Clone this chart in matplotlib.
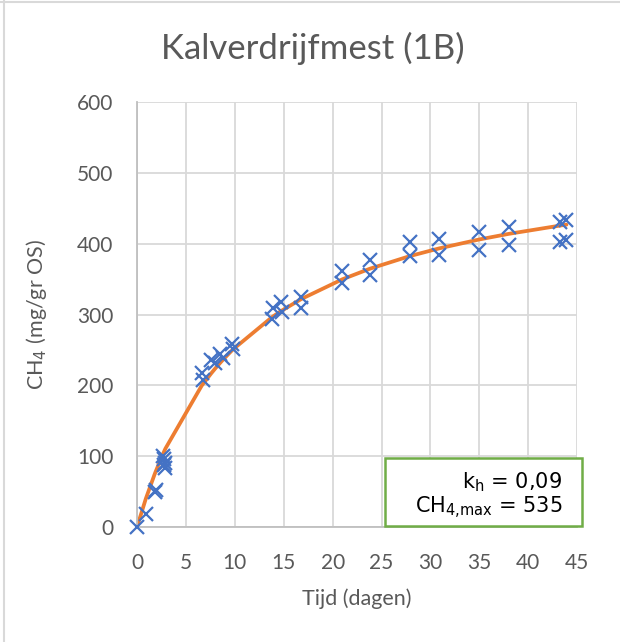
import matplotlib
matplotlib.use('Agg')
import matplotlib.pyplot as plt
from matplotlib.lines import Line2D
from matplotlib.patches import Rectangle
import numpy as np

# meetpunten: tijd (dagen) en cumulatieve methaanproductie (mg/gr OS)
tijd = [0, 0.9, 1.8, 1.9, 2.7, 2.8, 2.9, 2.8, 2.9,
        6.6, 6.7, 7.6, 8.0, 8.5, 8.8, 9.7, 9.8,
        13.8, 13.9, 14.7, 14.8, 16.8, 16.8,
        21.0, 21.0, 23.8, 23.8, 27.9, 27.9, 30.9, 30.9,
        35.0, 35.0, 38.0, 38.0, 43.2, 43.9, 43.2, 43.9]
ch4 = [0, 18, 50, 52, 101, 96, 91, 87, 83,
       217, 208, 236, 231, 245, 238, 259, 252,
       294, 309, 318, 304, 325, 309,
       362, 344, 377, 356, 403, 382, 407, 384,
       417, 391, 424, 398, 431, 433, 403, 405]

# modelparameters
kh = 0.09
ch4_max = 535

x_ticks = [0, 5, 10, 15, 20, 25, 30, 35, 40, 45]
y_ticks = [0, 100, 200, 300, 400, 500, 600]

tekst = '#595959'
plt.rcParams['font.family'] = ['Lato', 'DejaVu Sans']

fig = plt.figure(figsize=(6.2, 6.42), dpi=100)
ax = fig.add_axes([0.221, 0.179, 0.710, 0.662])

# model: CH4 = CH4,max * kh*t / (1 + kh*t)
t_model = np.array(sorted(set(tijd)))
ch4_model = ch4_max * kh * t_model / (1 + kh * t_model)

ax.plot(tijd, ch4, linestyle='none', marker='x', markersize=10.5,
        markeredgewidth=1.6, color='#4472c4', zorder=3, clip_on=False)
ax.plot(t_model, ch4_model, color='#ed7d31', linewidth=2.7, zorder=2,
        solid_capstyle='round', solid_joinstyle='round')

ax.set_xlim(0, 45)
ax.set_ylim(0, 600)
ax.set_xticks(x_ticks)
ax.set_yticks(y_ticks)
ax.grid(True, color='#d9d9d9', linewidth=1.3)
ax.set_axisbelow(True)
ax.tick_params(length=0, labelsize=15, labelcolor=tekst)
ax.tick_params(axis='x', pad=19)
ax.tick_params(axis='y', pad=17)
for side in ['top', 'right']:
    ax.spines[side].set_visible(False)
for side in ['left', 'bottom']:
    ax.spines[side].set_color('#bfbfbf')
    ax.spines[side].set_linewidth(1.3)

fig.text(0.505, 0.925, 'Kalverdrijfmest (1B)', fontsize=25, color=tekst,
         ha='center', va='center')
ax.set_xlabel('Tijd (dagen)', fontsize=15.5, color=tekst, labelpad=11)
ax.set_ylabel('CH$_4$ (mg/gr OS)', fontsize=15.5, color=tekst, labelpad=20)

# kader met de modelparameters
fig.add_artist(Rectangle((0.621, 0.181), 0.318, 0.105, transform=fig.transFigure,
                         facecolor='white', edgecolor='#70ad47', linewidth=1.8,
                         zorder=5))
fig.text(0.907, 0.249, '$\\mathregular{k_h}$ = 0,09', ha='right', va='center',
         fontsize=15, family='DejaVu Sans', color='black', zorder=6)
fig.text(0.907, 0.209, '$\\mathregular{CH_{4{,}max}}$ = 535', ha='right', va='center',
         fontsize=15, family='DejaVu Sans', color='black', zorder=6)

# kader van de grafiek
fig.add_artist(Line2D([0, 1], [0.997, 0.997], color='#d9d9d9', linewidth=1.5))
fig.add_artist(Line2D([0.007, 0.007], [0, 1], color='#d9d9d9', linewidth=1.5))

fig.savefig('out.png', dpi=100)
